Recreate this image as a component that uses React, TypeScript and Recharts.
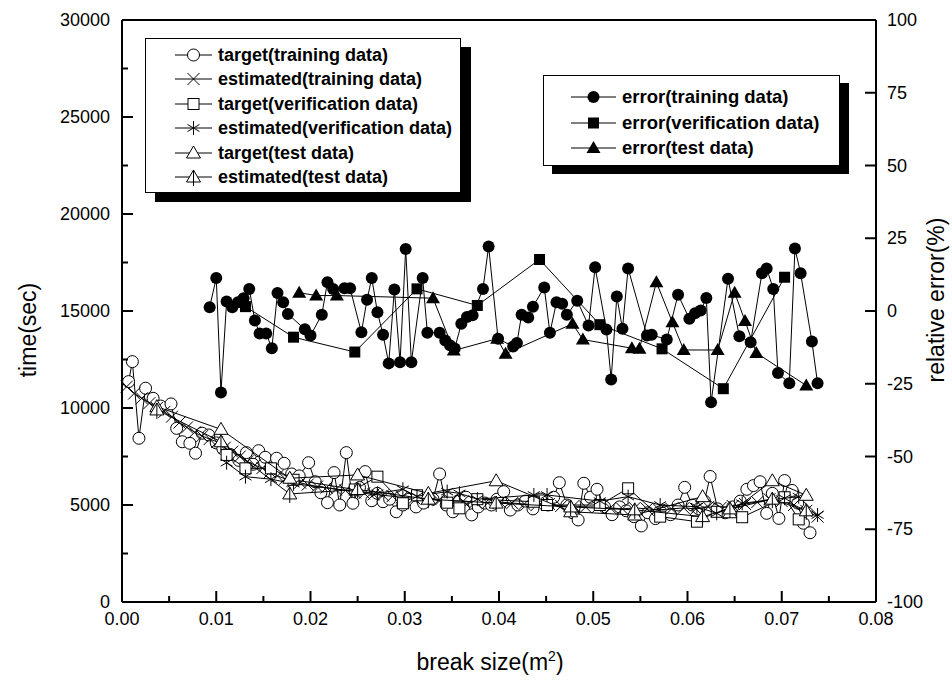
import React from 'react'
import { ComposedChart, Scatter, XAxis, YAxis } from 'recharts'

type Pt = [number, number]

// break size (m^2) vs time (sec)
const TARGET_TRAIN: Pt[] = [
  [0.0007, 11360], [0.0011, 12390], [0.0018, 8440], [0.0025, 11020], [0.0033, 10500], [0.0041, 10100],
  [0.0052, 10210], [0.0058, 8950], [0.0064, 8260], [0.0072, 8180], [0.0078, 7670], [0.0085, 8700],
  [0.0092, 8610], [0.01, 8200], [0.0107, 7900], [0.0115, 7600], [0.0124, 7300], [0.0132, 7700],
  [0.0139, 7100], [0.0145, 7800], [0.0152, 7460], [0.0158, 6900], [0.0164, 7410], [0.0172, 7150],
  [0.018, 6600], [0.0188, 6500], [0.0198, 7180], [0.0205, 6200], [0.0211, 5630], [0.0218, 5120],
  [0.0225, 6670], [0.0231, 5000], [0.0238, 7700], [0.0245, 5090], [0.0252, 5900], [0.0258, 6720],
  [0.0265, 5220], [0.0271, 5600], [0.0277, 5170], [0.0284, 5300], [0.0291, 4650], [0.0298, 5000],
  [0.0305, 5300], [0.0312, 4900], [0.032, 5100], [0.033, 5300], [0.0337, 6600], [0.0344, 5000],
  [0.0351, 4650], [0.0358, 5200], [0.0365, 5400], [0.0371, 4490], [0.0378, 4900], [0.0385, 5100],
  [0.0392, 5000], [0.0398, 5300], [0.0405, 5690], [0.0412, 4740], [0.042, 5000], [0.0428, 5200],
  [0.0436, 4800], [0.0444, 5300], [0.0452, 5000], [0.0458, 5400], [0.0464, 6150], [0.0472, 5000],
  [0.0478, 4600], [0.0484, 4230], [0.049, 6120], [0.0497, 5400], [0.0504, 5810], [0.0512, 4900],
  [0.052, 4500], [0.0528, 4900], [0.0535, 4700], [0.0543, 4400], [0.0551, 3920], [0.0558, 4600],
  [0.0566, 4300], [0.0574, 4700], [0.0582, 4500], [0.059, 5000], [0.0597, 5910], [0.0605, 5000],
  [0.0612, 4800], [0.0618, 5200], [0.0624, 6470], [0.0632, 4800], [0.064, 4600], [0.0648, 4900],
  [0.0656, 5200], [0.0663, 5810], [0.067, 6000], [0.0677, 6200], [0.0684, 4570], [0.069, 5600],
  [0.0697, 4310], [0.0703, 6260], [0.0711, 5750], [0.0717, 5100], [0.0723, 4060], [0.073, 3570],
]

const EST_TRAIN: Pt[] = [
  [0.0005, 11100], [0.0013, 10750], [0.0021, 10500], [0.0029, 10250], [0.0037, 10000], [0.0045, 9800],
  [0.0053, 9550], [0.0061, 9250], [0.0069, 9000], [0.0077, 8750], [0.0085, 8550], [0.0093, 8400],
  [0.0101, 8250], [0.0109, 7950], [0.0117, 7750], [0.0125, 7500], [0.0133, 7250], [0.0141, 7050],
  [0.0149, 6900], [0.0157, 6700], [0.0165, 6500], [0.0173, 6350], [0.0181, 6250], [0.0189, 6150],
  [0.0197, 6050], [0.0207, 5950], [0.0217, 5900], [0.0227, 5800], [0.0237, 5750], [0.0247, 5650],
  [0.0257, 5600], [0.0267, 5550], [0.0277, 5500], [0.0287, 5450], [0.0297, 5400], [0.031, 5350],
  [0.0323, 5300], [0.0336, 5250], [0.0349, 5200], [0.0362, 5200], [0.0375, 5150], [0.0388, 5100],
  [0.0401, 5150], [0.0414, 5100], [0.0427, 5050], [0.044, 5000], [0.0453, 5050], [0.0466, 4950],
  [0.0479, 4950], [0.0492, 4900], [0.0505, 4900], [0.0518, 4850], [0.0531, 4800], [0.0544, 4850],
  [0.0557, 4800], [0.057, 4750], [0.0583, 4800], [0.0596, 4850], [0.0609, 4800], [0.0622, 4900],
  [0.0635, 4850], [0.0648, 4950], [0.0661, 5050], [0.0674, 5150], [0.0687, 5300], [0.07, 5200],
  [0.0713, 5000], [0.0726, 4700], [0.0738, 4400],
]

const TARGET_VER: Pt[] = [
  [0.0111, 7580], [0.0131, 6890], [0.0158, 6890], [0.0182, 6300], [0.0247, 5800], [0.0271, 6460],
  [0.0298, 5090], [0.0313, 5500], [0.0345, 5120], [0.0358, 4830], [0.0377, 5300], [0.0437, 5170],
  [0.0451, 5000], [0.0507, 5000], [0.0537, 5860], [0.0571, 4400], [0.061, 4140], [0.0631, 4650],
  [0.0658, 4370], [0.0703, 5400], [0.0718, 4260],
]

const EST_VER: Pt[] = [
  [0.0111, 7180], [0.0131, 6460], [0.0158, 6330], [0.0182, 6100], [0.0247, 5700], [0.0271, 5600],
  [0.0298, 5810], [0.0313, 5450], [0.0345, 5690], [0.0358, 5600], [0.0377, 5300], [0.0437, 5515],
  [0.0451, 5515], [0.0507, 5200], [0.0537, 5430], [0.0571, 5000], [0.061, 4910], [0.0631, 4570],
  [0.0658, 5090], [0.0703, 5350], [0.0718, 5430], [0.0738, 4485],
]

const TARGET_TEST: Pt[] = [
  [0.0037, 10070], [0.0105, 8900], [0.0178, 6380], [0.025, 6550], [0.0325, 5600], [0.0397, 6250],
  [0.0476, 4650], [0.0544, 4485], [0.0616, 5430], [0.0645, 4600], [0.069, 6250], [0.0726, 5500],
]

const EST_TEST: Pt[] = [
  [0.0037, 9900], [0.0105, 8260], [0.0178, 5570], [0.025, 5800], [0.0325, 5300], [0.0397, 5100],
  [0.0476, 4900], [0.0544, 4750], [0.0616, 4400], [0.0645, 4800], [0.069, 5300], [0.0726, 4700],
]

// break size vs relative error (%)
const ERR_TRAIN: Pt[] = [
  [0.0093, 1.3], [0.0100, 11.3], [0.0105, -28.0], [0.0111, 3.3], [0.0117, 1.3], [0.0123, 3.0],
  [0.0129, 4.4], [0.0135, 7.6], [0.0141, -3.3], [0.0146, -7.7], [0.0153, -7.7], [0.0159, -12.8],
  [0.0165, 6.2], [0.0171, 3.0], [0.0176, -1.0], [0.0194, -6.3], [0.0200, -8.4], [0.0212, -1.3],
  [0.0218, 9.9], [0.0224, 7.6], [0.0236, 7.8], [0.0242, 7.8], [0.0254, -7.3], [0.0260, 3.9],
  [0.0265, 11.3], [0.0271, -0.4], [0.0277, -8.2], [0.0283, -18.0], [0.0289, 7.4], [0.0295, -17.6],
  [0.0301, 21.3], [0.0307, -17.6], [0.0319, 11.3], [0.0324, -7.5], [0.0337, -7.5], [0.0343, -10.1],
  [0.0348, -11.8], [0.0353, -12.9], [0.0360, -4.4], [0.0366, -2.1], [0.0372, -1.5], [0.0383, 7.6],
  [0.0389, 22.2], [0.0399, -9.5], [0.0415, -12.2], [0.0419, -11.0], [0.0424, -1.3], [0.0431, -2.2],
  [0.0436, 1.5], [0.0448, 8.1], [0.0454, -7.5], [0.0461, 3.0], [0.0467, 2.5], [0.0472, -1.3],
  [0.0483, 3.5], [0.0495, -5.0], [0.0502, 15.0], [0.0514, -6.4], [0.0519, -23.5], [0.0525, 5.0],
  [0.0531, -6.1], [0.0537, 14.6], [0.0557, -8.4], [0.0562, -8.2], [0.0578, -9.8], [0.0590, 5.6],
  [0.0602, -2.7], [0.0608, -0.8], [0.0614, 0.2], [0.0620, 4.5], [0.0625, -31.4], [0.0643, 11.1],
  [0.0655, -8.7], [0.0667, -10.7], [0.0679, 13.0], [0.0684, 14.6], [0.0691, 7.6], [0.0696, -21.3],
  [0.0708, -24.8], [0.0714, 21.5], [0.0720, 13.0], [0.0732, -10.5], [0.0738, -24.8],
]

const ERR_VER: Pt[] = [
  [0.0131, 1.5], [0.0182, -9.0], [0.0247, -14.1], [0.0313, 7.6], [0.0377, 1.9],
  [0.0443, 17.7], [0.0507, -4.7], [0.0573, -13.0], [0.0638, -26.7], [0.0703, 11.6],
]

const ERR_TEST: Pt[] = [
  [0.0188, 6.3], [0.0206, 5.3], [0.0228, 5.3], [0.0330, 4.4], [0.0352, -13.6], [0.0398, -9.5],
  [0.0407, -14.7], [0.0478, -4.4], [0.0489, -9.8], [0.0541, -12.8], [0.0549, -13.0], [0.0567, 9.9],
  [0.0584, -3.9], [0.0596, -13.4], [0.0632, -13.4], [0.0650, 6.3], [0.0661, -3.4], [0.0673, -14.4],
  [0.0726, -25.6],
]

const X_TICKS = [0, 0.005, 0.01, 0.015, 0.02, 0.025, 0.03, 0.035, 0.04, 0.045, 0.05, 0.055, 0.06, 0.065, 0.07, 0.075, 0.08]
const LEFT_TICKS = [0, 2500, 5000, 7500, 10000, 12500, 15000, 17500, 20000, 22500, 25000, 27500, 30000]
const RIGHT_TICKS = [-100, -75, -50, -25, 0, 25, 50, 75, 100]

const LEGEND_LEFT = [
  'target(training data)',
  'estimated(training data)',
  'target(verification data)',
  'estimated(verification data)',
  'target(test data)',
  'estimated(test data)',
]
const LEGEND_RIGHT = ['error(training data)', 'error(verification data)', 'error(test data)']

const FONT = 'Arial, "Liberation Sans", Helvetica, sans-serif'
const K = '#000'

const rows = (pts: Pt[]) => pts.map(([x, y]) => ({ x, y }))

type Mark = (cx: number, cy: number) => React.ReactElement

const circleOpen: Mark = (cx, cy) => <circle cx={cx} cy={cy} r={6} fill="#fff" stroke={K} strokeWidth={1} />
const cross: Mark = (cx, cy) => (
  <g stroke={K} strokeWidth={1}>
    <line x1={cx - 6} y1={cy - 6} x2={cx + 6} y2={cy + 6} />
    <line x1={cx - 6} y1={cy + 6} x2={cx + 6} y2={cy - 6} />
  </g>
)
const squareOpen: Mark = (cx, cy) => <rect x={cx - 5.5} y={cy - 5.5} width={11} height={11} fill="#fff" stroke={K} strokeWidth={1} />
const star: Mark = (cx, cy) => (
  <g stroke={K} strokeWidth={1}>
    <line x1={cx} y1={cy - 7} x2={cx} y2={cy + 7} />
    <line x1={cx - 6} y1={cy - 3.5} x2={cx + 6} y2={cy + 3.5} />
    <line x1={cx - 6} y1={cy + 3.5} x2={cx + 6} y2={cy - 3.5} />
  </g>
)
const triPath = (cx: number, cy: number) => `M${cx},${cy - 7} L${cx + 7},${cy + 5} L${cx - 7},${cy + 5} Z`
const triOpen: Mark = (cx, cy) => <path d={triPath(cx, cy)} fill="#fff" stroke={K} strokeWidth={1} />
const triCross: Mark = (cx, cy) => (
  <g stroke={K} strokeWidth={1}>
    <path d={triPath(cx, cy)} fill="#fff" />
    <line x1={cx} y1={cy - 7} x2={cx} y2={cy + 9} />
  </g>
)
const circleFill: Mark = (cx, cy) => <circle cx={cx} cy={cy} r={6} fill={K} />
const squareFill: Mark = (cx, cy) => <rect x={cx - 5.5} y={cy - 5.5} width={11} height={11} fill={K} />
const triFill: Mark = (cx, cy) => <path d={triPath(cx, cy)} fill={K} />

const shapeOf = (m: Mark) => (p: any) => m(p.cx, p.cy)

const isMajorX = (v: number) => Math.abs(v * 100 - Math.round(v * 100)) < 1e-6

function BottomTick({ x, y, payload }: any) {
  const major = isMajorX(payload.value)
  return (
    <g>
      <line x1={x} y1={y} x2={x} y2={y - (major ? 11 : 6)} stroke={K} strokeWidth={2} />
      {major && (
        <text x={x} y={y + 23} textAnchor="middle" fontSize={18} fontFamily={FONT} fill={K}>
          {payload.value.toFixed(2)}
        </text>
      )}
    </g>
  )
}

function TopTick({ x, y, payload }: any) {
  const major = isMajorX(payload.value)
  return <line x1={x} y1={y} x2={x} y2={y + (major ? 11 : 6)} stroke={K} strokeWidth={2} />
}

function LeftTick({ x, y, payload }: any) {
  const major = payload.value % 5000 === 0
  return (
    <g>
      <line x1={x} y1={y} x2={x + (major ? 11 : 6)} y2={y} stroke={K} strokeWidth={2} />
      {major && (
        <text x={x - 12} y={y + 6} textAnchor="end" fontSize={18} fontFamily={FONT} fill={K}>
          {payload.value}
        </text>
      )}
    </g>
  )
}

function RightTick({ x, y, payload }: any) {
  return (
    <g>
      <line x1={x} y1={y} x2={x - 11} y2={y} stroke={K} strokeWidth={2} />
      <text x={x + 11} y={y + 6} textAnchor="start" fontSize={18} fontFamily={FONT} fill={K}>
        {payload.value}
      </text>
    </g>
  )
}

function LegendRow({ mark, label, top, left, size, w }: { mark: Mark; label: string; top: number; left: number; size: number; w: number }) {
  return (
    <div style={{ position: 'absolute', left, top: top - 12, height: 24, display: 'flex', alignItems: 'center' }}>
      <svg width={w} height={24} style={{ display: 'block' }}>
        <line x1={1} y1={12} x2={w - 1} y2={12} stroke={K} strokeWidth={1} />
        {mark(w / 2, 12)}
      </svg>
      <span style={{ marginLeft: 5, fontFamily: FONT, fontWeight: 'bold', fontSize: size, whiteSpace: 'nowrap', lineHeight: '24px' }}>
        {label}
      </span>
    </div>
  )
}

const LEFT_MARKS = [circleOpen, cross, squareOpen, star, triOpen, triCross]
const RIGHT_MARKS = [circleFill, squareFill, triFill]

export default function App() {
  const line = { stroke: K, strokeWidth: 1 }
  const lower: [Pt[], Mark][] = [
    [TARGET_TRAIN, circleOpen],
    [EST_TRAIN, cross],
    [TARGET_VER, squareOpen],
    [EST_VER, star],
    [TARGET_TEST, triOpen],
    [EST_TEST, triCross],
  ]
  const upper: [Pt[], Mark][] = [
    [ERR_TRAIN, circleFill],
    [ERR_VER, squareFill],
    [ERR_TEST, triFill],
  ]
  return (
    <div style={{ position: 'absolute', left: 0, top: 0, width: 952, height: 691, background: '#fff', fontFamily: FONT }}>
      <ComposedChart width={952} height={691} margin={{ top: 19, right: 0, bottom: 0, left: 0 }}>
        <XAxis
          xAxisId="b"
          dataKey="x"
          type="number"
          domain={[0, 0.08]}
          ticks={X_TICKS}
          interval={0}
          height={89}
          tickSize={0}
          tickMargin={0}
          tickLine={false}
          axisLine={{ stroke: K, strokeWidth: 2 }}
          tick={<BottomTick />}
        />
        <XAxis
          xAxisId="t"
          orientation="top"
          dataKey="x"
          type="number"
          domain={[0, 0.08]}
          ticks={X_TICKS}
          interval={0}
          height={1}
          tickSize={0}
          tickMargin={0}
          tickLine={false}
          axisLine={{ stroke: K, strokeWidth: 2 }}
          tick={<TopTick />}
        />
        <YAxis
          yAxisId="left"
          dataKey="y"
          type="number"
          domain={[0, 30000]}
          ticks={LEFT_TICKS}
          interval={0}
          width={122}
          tickSize={0}
          tickMargin={0}
          tickLine={false}
          axisLine={{ stroke: K, strokeWidth: 2 }}
          tick={<LeftTick />}
        />
        <YAxis
          yAxisId="right"
          orientation="right"
          dataKey="y"
          type="number"
          domain={[-100, 100]}
          ticks={RIGHT_TICKS}
          interval={0}
          width={76}
          tickSize={0}
          tickMargin={0}
          tickLine={false}
          axisLine={{ stroke: K, strokeWidth: 2 }}
          tick={<RightTick />}
        />
        {lower.map(([pts, m], i) => (
          <Scatter
            key={'l' + i}
            xAxisId="b"
            yAxisId="left"
            data={rows(pts)}
            dataKey="y"
            line={line}
            shape={shapeOf(m)}
            isAnimationActive={false}
          />
        ))}
        {upper.map(([pts, m], i) => (
          <Scatter
            key={'u' + i}
            xAxisId="b"
            yAxisId="right"
            data={rows(pts)}
            dataKey="y"
            line={line}
            shape={shapeOf(m)}
            isAnimationActive={false}
          />
        ))}
      </ComposedChart>

      {/* legend: time series */}
      <div style={{ position: 'absolute', left: 145, top: 38, width: 316, height: 155, border: '1px solid #000', background: '#fff', boxShadow: '10px 9px 0 #000', boxSizing: 'border-box' }} />
      {LEGEND_LEFT.map((t, i) => (
        <LegendRow key={t} mark={LEFT_MARKS[i]} label={t} top={55 + i * 24.4} left={174} size={18} w={39} />
      ))}

      {/* legend: error series */}
      <div style={{ position: 'absolute', left: 543, top: 75, width: 297, height: 91, border: '1px solid #000', background: '#fff', boxShadow: '9px 8px 0 #000', boxSizing: 'border-box' }} />
      {LEGEND_RIGHT.map((t, i) => (
        <LegendRow key={t} mark={RIGHT_MARKS[i]} label={t} top={97 + i * 25.5} left={570} size={18.5} w={47} />
      ))}

      {/* axis titles */}
      <div style={{ position: 'absolute', left: 28, top: 330, transform: 'translate(-50%, -50%) rotate(-90deg)', fontSize: 23, whiteSpace: 'nowrap' }}>
        time(sec)
      </div>
      <div style={{ position: 'absolute', left: 936, top: 300, transform: 'translate(-50%, -50%) rotate(-90deg)', fontSize: 23, whiteSpace: 'nowrap' }}>
        relative error(%)
      </div>
      <div style={{ position: 'absolute', left: 490, top: 662, transform: 'translate(-50%, -50%)', fontSize: 23, whiteSpace: 'nowrap' }}>
        break size(m<sup style={{ fontSize: 14 }}>2</sup>)
      </div>
    </div>
  )
}
